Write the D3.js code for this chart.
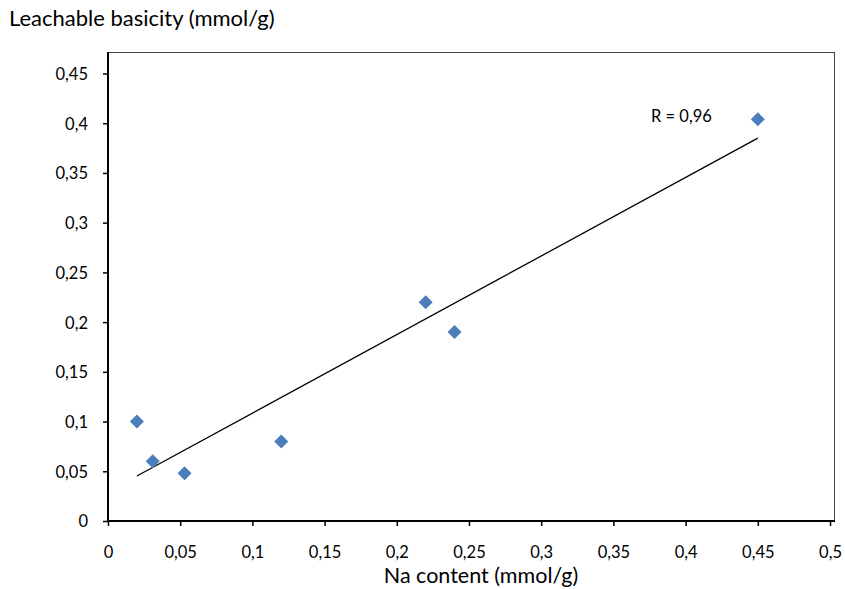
<!DOCTYPE html>
<html>
<head>
<meta charset="utf-8">
<script src="https://cdn.jsdelivr.net/npm/d3@7"></script>
<style>
  body { margin: 0; background: #fff; }
  text { font-family: Lato, "Open Sans", sans-serif; fill: #000; }
</style>
</head>
<body>
<script>
// values
var naContent = [0.02, 0.031, 0.053, 0.12, 0.22, 0.24, 0.45];
var basicity  = [0.10, 0.060, 0.048, 0.08, 0.22, 0.19, 0.404];
var xTicks = [0, 0.05, 0.1, 0.15, 0.2, 0.25, 0.3, 0.35, 0.4, 0.45, 0.5];
var yTicks = [0, 0.05, 0.1, 0.15, 0.2, 0.25, 0.3, 0.35, 0.4, 0.45];
var rLabel = "R = 0,96";

var width = 845, height = 589;
var frame = { left: 108, right: 835, top: 52, bottom: 521 };

var svg = d3.select("body").append("svg")
	.attr("width", width)
	.attr("height", height);

var x = d3.scaleLinear().domain([0, 0.5]).range([108, 830]);
var y = d3.scaleLinear().domain([0, 0.45]).range([521, 73.5]);

var fmt = function (d) { return String(d).replace(".", ","); };

// thin frame around the plot area
svg.append("rect")
	.attr("x", frame.left + 0.5)
	.attr("y", frame.top + 0.5)
	.attr("width", frame.right - frame.left - 1)
	.attr("height", frame.bottom - frame.top)
	.attr("fill", "none")
	.attr("stroke", "#444")
	.attr("stroke-width", 1);

// axes
var xAxis = svg.append("g")
	.attr("transform", "translate(0," + frame.bottom + ")")
	.call(d3.axisBottom(x).tickValues(xTicks).tickFormat(fmt).tickSize(5).tickSizeOuter(0));
xAxis.select(".domain").attr("d", "M" + frame.left + ",0H" + frame.right).attr("stroke-width", 2);
xAxis.selectAll(".tick text").attr("dy", null).attr("y", 37).style("font-size", "16.5px");

var yAxis = svg.append("g")
	.attr("transform", "translate(" + frame.left + ",0)")
	.call(d3.axisLeft(y).tickValues(yTicks).tickFormat(fmt).tickSize(5).tickSizeOuter(0));
yAxis.select(".domain").attr("d", "M0," + frame.top + "V" + frame.bottom).attr("stroke-width", 2);
yAxis.selectAll(".tick text").attr("x", -20).attr("dy", "0.36em").style("font-size", "16.5px");
svg.selectAll(".tick line").attr("stroke-width", 1.5);
svg.selectAll(".domain, .tick line").attr("stroke", "#000");

// linear fit through the points
var mx = d3.mean(naContent), my = d3.mean(basicity);
var sxy = d3.sum(naContent, function (v, i) { return (v - mx) * (basicity[i] - my); });
var sxx = d3.sum(naContent, function (v) { return (v - mx) * (v - mx); });
var slope = sxy / sxx, icpt = my - slope * mx;
var ext = d3.extent(naContent);

svg.append("line")
	.attr("x1", x(ext[0])).attr("y1", y(icpt + slope * ext[0]))
	.attr("x2", x(ext[1])).attr("y2", y(icpt + slope * ext[1]))
	.attr("stroke", "#000")
	.attr("stroke-width", 1.3);

// diamond markers
var diamond = d3.symbol().type(d3.symbolSquare).size(98);
svg.selectAll(".point")
	.data(naContent)
	.enter().append("path")
	.attr("class", "point")
	.attr("d", diamond)
	.attr("transform", function (d, i) { return "translate(" + x(d) + "," + y(basicity[i]) + ") rotate(45)"; })
	.attr("fill", "#4a7ebb");

// texts
svg.append("text")
	.attr("x", 651).attr("y", 122)
	.style("font-size", "16.5px")
	.text(rLabel);

svg.append("text")
	.attr("x", 9).attr("y", 26)
	.style("font-size", "22px")
	.text("Leachable basicity (mmol/g)");

svg.append("text")
	.attr("x", 481).attr("y", 583)
	.attr("text-anchor", "middle")
	.style("font-size", "21.5px")
	.text("Na content (mmol/g)");
</script>
</body>
</html>
